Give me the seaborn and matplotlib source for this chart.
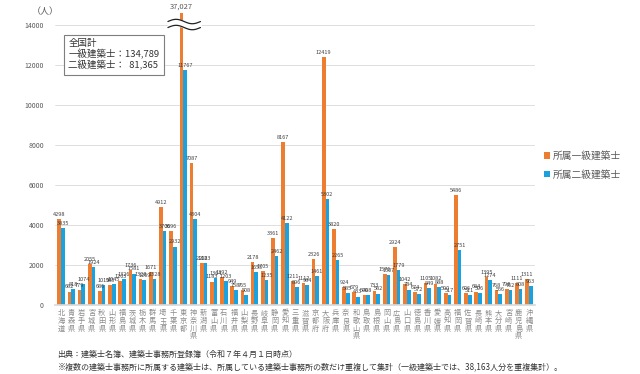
import numpy as np
import pandas as pd
import seaborn as sns
import matplotlib.pyplot as plt

prefectures = ["北海道", "青森県", "岩手県", "宮城県", "秋田県", "山形県", "福島県", "茨城県",
               "栃木県", "群馬県", "埼玉県", "千葉県", "東京都", "神奈川県", "新潟県", "富山県",
               "石川県", "福井県", "山梨県", "長野県", "岐阜県", "静岡県", "愛知県", "三重県",
               "滋賀県", "京都府", "大阪府", "兵庫県", "奈良県", "和歌山県", "鳥取県", "島根県",
               "岡山県", "広島県", "山口県", "徳島県", "香川県", "愛媛県", "高知県", "福岡県",
               "佐賀県", "長崎県", "熊本県", "大分県", "宮崎県", "鹿児島県", "沖縄県"]
ikkyu = [4298, 682, 779, 2055, 686, 985, 1203, 1736, 1328, 1671, 4912, 3696, 37027, 7087,
         2108, 1183, 1392, 949, 765, 2178, 1705, 3361, 8167, 1211, 1112, 2326, 12419, 3820,
         924, 679, 506, 733, 1576, 2924, 1042, 674, 1105, 1082, 590, 5486, 606, 684, 1395,
         768, 790, 1111, 1311]
nikyu = [3835, 818, 1074, 1924, 1015, 1045, 1326, 1581, 1269, 1328, 3706, 2932, 11767, 4304,
         2123, 1364, 1203, 758, 508, 1655, 1235, 2462, 4122, 896, 984, 1461, 5302, 2265,
         585, 433, 498, 582, 1507, 1779, 784, 572, 849, 888, 517, 2751, 511, 596, 1274,
         556, 762, 808, 963]
series_names = ["所属一級建築士", "所属二級建築士"]
total_ikkyu = 134789
total_nikyu = 81365
cap = 14620  # bars above this are drawn broken

sns.set_theme(style="white")
plt.rcParams['font.family'] = ['Noto Sans CJK JP', 'DejaVu Sans']

df = pd.DataFrame({
    "pref": prefectures * 2,
    "kind": [series_names[0]] * len(prefectures) + [series_names[1]] * len(prefectures),
    "value": ikkyu + nikyu,
})
df["shown"] = np.minimum(df["value"], cap)

fig = plt.figure(figsize=(6.4, 3.74), dpi=100)
ax = fig.add_axes([0.086, 0.184, 0.75, 0.813])
colors = ["#ED7D31", "#1BA1DD"]
sns.barplot(data=df, x="pref", y="shown", hue="kind", palette=colors, width=0.72,
            ax=ax, legend=True, saturation=1, linewidth=0)

ax.set_ylim(0, 15200)
ax.set_xlim(-0.6, len(prefectures) - 0.4)
ax.set_yticks(range(0, 14001, 2000))
ax.set_yticklabels([str(v) for v in range(0, 14001, 2000)], fontsize=5, color="#595959")
ax.yaxis.grid(True, color="#d9d9d9", linewidth=0.6)
ax.set_axisbelow(True)
for s in ["top", "right", "left"]:
    ax.spines[s].set_visible(False)
ax.spines["bottom"].set_color("#d9d9d9")
ax.tick_params(axis="y", length=0, pad=8)
ax.tick_params(axis="x", length=0, pad=3)
ax.set_xticks(range(len(prefectures)))
ax.set_xticklabels(["\n".join(p) for p in prefectures], fontsize=5.2, color="#8c8c8c",
                   linespacing=0.95, va="top")
ax.set_xlabel("")
ax.set_ylabel("")

# value labels
for cont, vals in zip(ax.containers, [ikkyu, nikyu]):
    labels = [f"{v:,}" if v > cap else str(v) for v in vals]
    texts = ax.bar_label(cont, labels=labels, fontsize=4, color="#404040", padding=1.5)
    for t, v in zip(texts, vals):
        if v > cap:
            t.set_fontsize(5.5)
            t.set_color("#595959")

# break mark on the tall bar
tokyo = prefectures.index("東京都")
xs = np.linspace(tokyo - 1.5, tokyo + 1.7, 100)
wave = 110 * np.sin((xs - xs[0]) / (xs[-1] - xs[0]) * 2 * np.pi)
ax.fill_between(xs, 13880 + wave, 14180 + wave, color="white", zorder=10, clip_on=False)
ax.plot(xs, 13880 + wave, color="#222222", lw=0.9, zorder=11, clip_on=False)
ax.plot(xs, 14180 + wave, color="#222222", lw=0.9, zorder=11, clip_on=False)

leg = ax.legend(loc="center left", bbox_to_anchor=(1.0, 0.46), frameon=False, fontsize=7,
                handlelength=0.6, handleheight=0.6, handletextpad=0.3, labelspacing=0.9)
for t in leg.get_texts():
    t.set_color("#595959")

fig.text(0.05, 0.98, "（人）", fontsize=6.5, color="#595959", va="top")
fig.text(0.107, 0.895, f"全国計\n一級建築士：{total_ikkyu:,}\n二級建築士：  {total_nikyu:,}",
         fontsize=6.8, color="#333333", va="top", linespacing=1.1,
         bbox=dict(boxstyle="square,pad=0.45", fc="white", ec="#7f7f7f", lw=0.8))

fig.text(0.09, 0.045, "出典：建築士名簿、建築士事務所登録簿（令和７年４月１日時点）",
         fontsize=5.8, color="#333333")
fig.text(0.09, 0.012, "※複数の建築士事務所に所属する建築士は、所属している建築士事務所の数だけ重複して集計（一級建築士では、38,163人分を重複集計）。",
         fontsize=5.8, color="#333333")

fig.savefig("out.png", dpi=100)
